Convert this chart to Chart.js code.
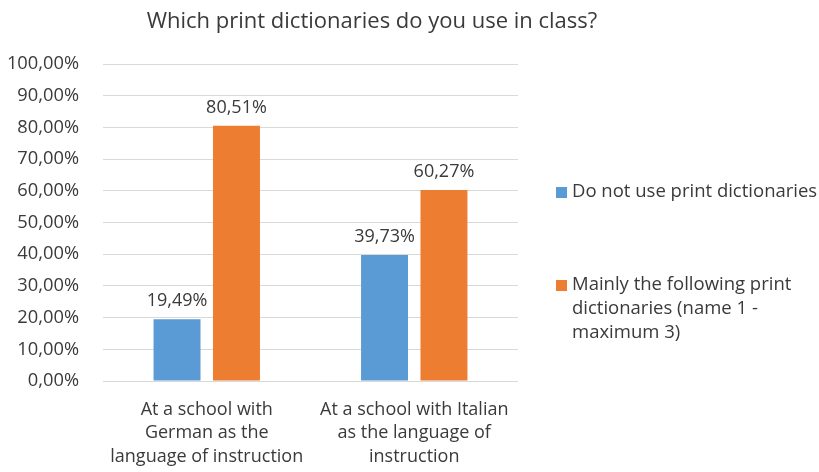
<!DOCTYPE html>
<html>
<head>
<meta charset="utf-8">
<script src="https://cdn.jsdelivr.net/npm/chart.js@4/dist/chart.umd.min.js"></script>
<style>
  html, body { margin: 0; padding: 0; background: #ffffff; }
  #wrap { width: 819px; height: 472px; position: relative; }
</style>
</head>
<body>
<div id="wrap"><canvas id="c" width="819" height="472"></canvas></div>
<script>
const titleText = 'Which print dictionaries do you use in class?';
const categories = [
  ['At a school with', 'German as the', 'language of instruction'],
  ['At a school with Italian', 'as the language of', 'instruction']
];
const seriesNames = [
  ['Do not use print dictionaries'],
  ['Mainly the following print', 'dictionaries (name 1 -', 'maximum 3)']
];
const notUsing = [19.49, 39.73];
const mainlyFollowing = [80.51, 60.27];
const yTicks = [0, 10, 20, 30, 40, 50, 60, 70, 80, 90, 100];

const FONT = "'Open Sans', sans-serif";
const TEXT = '#3a3a3a';
const BLUE = '#5B9BD5';
const ORANGE = '#ED7D31';

const fmt = v => v.toFixed(2).replace('.', ',') + '%';

// Title, centred above the plot + legend block
const titlePlugin = {
  id: 'titleText',
  afterDraw(chart) {
    const ctx = chart.ctx;
    ctx.save();
    ctx.font = '22px ' + FONT;
    ctx.fillStyle = TEXT;
    ctx.textAlign = 'center';
    ctx.textBaseline = 'middle';
    ctx.fillText(titleText, 372, 22);
    ctx.restore();
  }
};

// Value labels above each bar
const valueLabels = {
  id: 'valueLabels',
  afterDatasetsDraw(chart) {
    const ctx = chart.ctx;
    ctx.save();
    ctx.font = '18px ' + FONT;
    ctx.fillStyle = TEXT;
    ctx.textAlign = 'center';
    ctx.textBaseline = 'bottom';
    chart.data.datasets.forEach((ds, i) => {
      chart.getDatasetMeta(i).data.forEach((bar, j) => {
        ctx.fillText(fmt(ds.data[j]), bar.x, bar.y - 9);
      });
    });
    ctx.restore();
  }
};

// Legend on the right with wrapped labels
const sideLegend = {
  id: 'sideLegend',
  afterDraw(chart) {
    const ctx = chart.ctx;
    const x0 = chart.chartArea.right + 38;
    const rows = [192, 285];
    const lh = 24;
    ctx.save();
    ctx.font = '18.5px ' + FONT;
    ctx.textAlign = 'left';
    ctx.textBaseline = 'middle';
    chart.data.datasets.forEach((ds, i) => {
      const y = rows[i];
      ctx.fillStyle = ds.backgroundColor;
      ctx.fillRect(x0, y - 5, 11, 11);
      ctx.fillStyle = TEXT;
      seriesNames[i].forEach((line, k) => {
        ctx.fillText(line, x0 + 16, y + k * lh);
      });
    });
    ctx.restore();
  }
};

new Chart(document.getElementById('c'), {
  type: 'bar',
  data: {
    labels: categories,
    datasets: [
      { label: seriesNames[0].join(' '), data: notUsing, backgroundColor: BLUE },
      { label: seriesNames[1].join(' '), data: mainlyFollowing, backgroundColor: ORANGE }
    ]
  },
  options: {
    responsive: false,
    animation: false,
    devicePixelRatio: 1,
    layout: { padding: { top: 64, right: 301, left: 0, bottom: 0 } },
    datasets: { bar: { categoryPercentage: 0.573, barPercentage: 0.79 } },
    plugins: {
      legend: { display: false },
      title: { display: false },
      tooltip: { enabled: false }
    },
    scales: {
      x: {
        grid: { display: false, drawTicks: false },
        border: { display: false },
        ticks: {
          color: TEXT,
          font: { family: FONT, size: 18, lineHeight: 1.3 },
          padding: 17,
          maxRotation: 0,
          autoSkip: false
        },
        afterFit(scale) { scale.height = 91; }
      },
      y: {
        min: 0,
        max: 100,
        afterBuildTicks(scale) { scale.ticks = yTicks.map(v => ({ value: v })); },
        grid: { color: '#D9D9D9', lineWidth: 1, drawTicks: false },
        border: { display: false },
        ticks: {
          color: TEXT,
          font: { family: FONT, size: 18.3 },
          padding: 24,
          callback: v => fmt(v)
        },
        afterFit(scale) { scale.width = 103; }
      }
    }
  },
  plugins: [titlePlugin, valueLabels, sideLegend]
});
</script>
</body>
</html>
